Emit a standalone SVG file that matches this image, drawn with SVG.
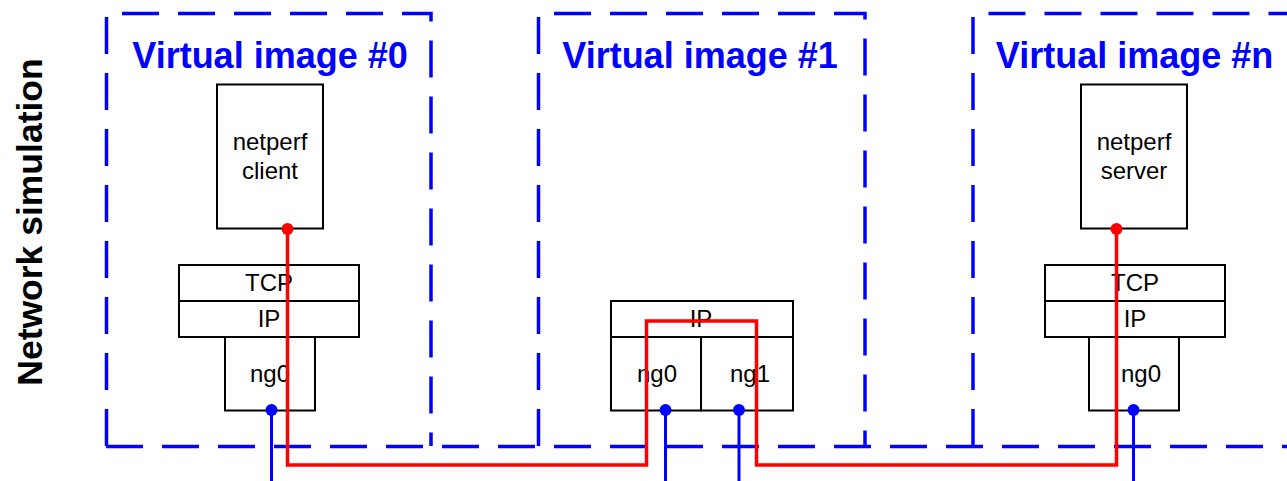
<svg xmlns="http://www.w3.org/2000/svg" width="1287" height="481" viewBox="0 0 1287 481">
<style>
.frame{fill:none;stroke:#0000ff;stroke-width:3.5;stroke-dasharray:37 19}
.title{font-family:"Liberation Sans",Arial,sans-serif;font-weight:bold;font-size:36px;fill:#0000ff;text-anchor:middle}
.box{fill:#ffffff;stroke:#000000;stroke-width:2}
.lbl{font-family:"Liberation Sans",Arial,sans-serif;font-size:24px;fill:#000000;text-anchor:middle}
.side{font-family:"Liberation Sans",Arial,sans-serif;font-weight:bold;font-size:35.5px;fill:#000000;text-anchor:middle}
.blue{stroke:#0000ff;stroke-width:3;fill:none}
.red{stroke:#ff0000;stroke-width:3.5;fill:none}
</style>
<text class="side" transform="translate(42,222) rotate(-90)">Network simulation</text>
<g id="frames">
<path class="frame" d="M106.5,446 V13.5 H431 V446"/>
<path class="frame" d="M538.5,446 V13.5 H865 V446"/>
<path class="frame" d="M973,446 V13.5 H1290"/>
<path class="frame" d="M106,446.5 H1290"/>
</g>
<g id="vi0">
<text class="title" x="270" y="68">Virtual image #0</text>
<rect class="box" x="217" y="84.5" width="106" height="144"/>
<text class="lbl" x="270" y="150">netperf</text>
<text class="lbl" x="270" y="179">client</text>
<rect class="box" x="179" y="265" width="180" height="36"/>
<rect class="box" x="179" y="301" width="180" height="36"/>
<text class="lbl" x="269" y="291">TCP</text>
<text class="lbl" x="269" y="327">IP</text>
<rect class="box" x="225" y="337" width="90" height="73.5"/>
<text class="lbl" x="270" y="382">ng0</text>
</g>
<g id="vi1">
<text class="title" x="700" y="68">Virtual image #1</text>
<rect class="box" x="611" y="301" width="182" height="36"/>
<text class="lbl" x="701" y="327">IP</text>
<rect class="box" x="611" y="337" width="90" height="73.5"/>
<rect class="box" x="701" y="337" width="92" height="73.5"/>
<text class="lbl" x="657" y="382">ng0</text>
<text class="lbl" x="750" y="382">ng1</text>
</g>
<g id="vin">
<text class="title" x="1134.5" y="68">Virtual image #n</text>
<rect class="box" x="1081" y="84.5" width="106" height="144"/>
<text class="lbl" x="1134" y="150">netperf</text>
<text class="lbl" x="1134" y="179">server</text>
<rect class="box" x="1045" y="265" width="180" height="36"/>
<rect class="box" x="1045" y="301" width="180" height="36"/>
<text class="lbl" x="1135" y="291">TCP</text>
<text class="lbl" x="1135" y="327">IP</text>
<rect class="box" x="1089" y="337" width="90" height="73.5"/>
<text class="lbl" x="1141" y="382">ng0</text>
</g>
<g id="connectors">
<path class="blue" d="M271.5,410 V481"/>
<path class="blue" d="M665.5,410 V481"/>
<path class="blue" d="M739,410 V481"/>
<path class="blue" d="M1133.5,410 V481"/>
<path class="red" d="M287.5,229 V465 H646.5 V321 H756.5 V465 H1116.5 V229"/>
<circle cx="271.5" cy="410" r="6" fill="#0000ff"/>
<circle cx="665.5" cy="410" r="6" fill="#0000ff"/>
<circle cx="739" cy="410" r="6" fill="#0000ff"/>
<circle cx="1133.5" cy="410" r="6" fill="#0000ff"/>
<circle cx="287.5" cy="229" r="6" fill="#ff0000"/>
<circle cx="1116.5" cy="229" r="6" fill="#ff0000"/>
</g>
</svg>
